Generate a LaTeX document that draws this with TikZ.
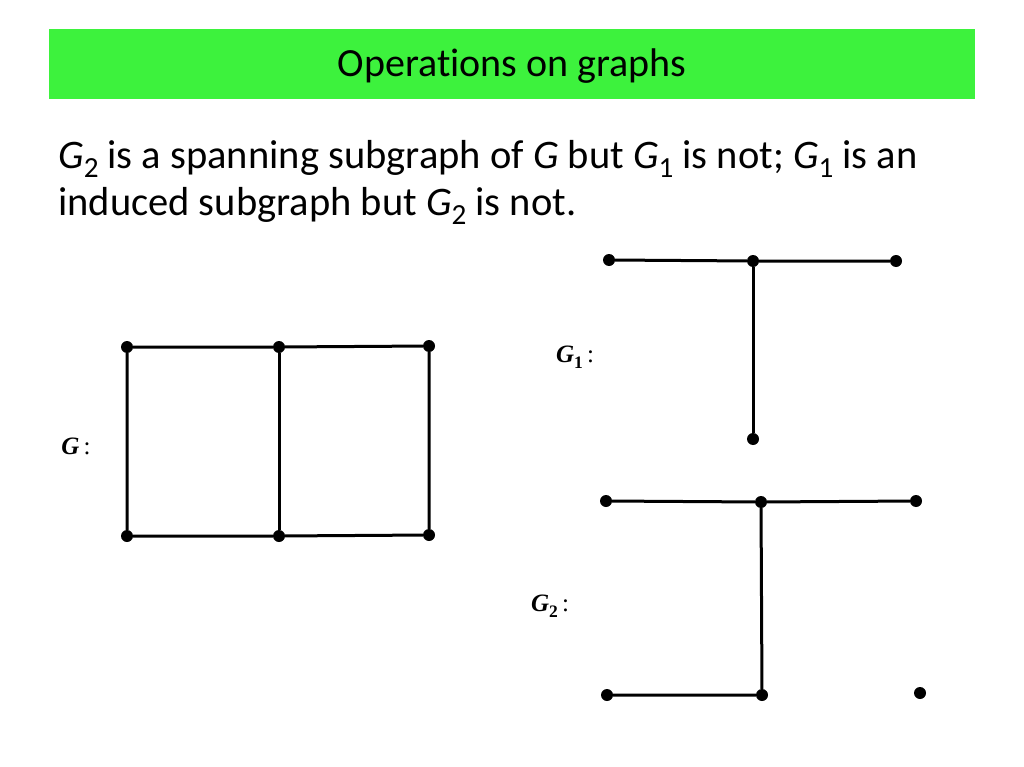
\documentclass[tikz,border=0pt]{standalone}
\usepackage{fontspec}
\setmainfont{Carlito}[Ligatures=NoCommon]
\newfontfamily\labfont{Liberation Serif}
\definecolor{bargreen}{HTML}{3DF23D}
\newcommand{\Gsub}[1]{\textit{G}\raisebox{-0.2em}{\scalebox{0.72}{#1}}}
\newcommand{\Glab}[1]{{\labfont\bfseries\itshape G}\raisebox{-0.22em}{\labfont\bfseries\scalebox{0.7}{#1}}\labfont\,:}
\begin{document}
\begin{tikzpicture}[x=1pt,y=-1pt,
  vtx/.style={circle,fill=black,inner sep=0pt,minimum size=12pt},
  edge/.style={line width=3pt},
  glabel/.style={font=\fontsize{25}{28}\selectfont,inner sep=0pt},
  body/.style={font=\fontsize{40.5}{47}\selectfont,anchor=base west,inner sep=0pt}]
\useasboundingbox[fill=white] (0,0) rectangle (1024,767);
\fill[bargreen] (49,29) rectangle (975,99);
\node[font=\fontsize{40}{46}\selectfont,inner sep=0pt] (title) at (512,66) {Operations on graphs};
\node[body] (l1) at (58,169)
  {\Gsub{2} is a spanning subgraph of \textit{G} but \Gsub{1} is not; \Gsub{1} is an};
\node[body] (l2) at (58,216)
  {induced subgraph but \Gsub{2} is not.};
% graph G
\node[vtx] (a1) at (127,347) {};
\node[vtx] (a2) at (279,347) {};
\node[vtx] (a3) at (429,346) {};
\node[vtx] (b1) at (127,536) {};
\node[vtx] (b2) at (279,536) {};
\node[vtx] (b3) at (429,535) {};
\draw[edge] (a1) -- (a2) -- (a3) -- (b3) -- (b2) -- (b1) -- (a1);
\draw[edge] (a2) -- (b2);
\node[glabel] (lg) at (76,446) {{\labfont\bfseries\itshape G}\labfont\,:};
% graph G1
\node[vtx] (c1) at (609,260) {};
\node[vtx] (c2) at (753,261) {};
\node[vtx] (c3) at (896,261) {};
\node[vtx] (c4) at (753,439) {};
\draw[edge] (c1) -- (c2) -- (c3);
\draw[edge] (c2) -- (c4);
\node[glabel] (lg1) at (575,357) {\Glab{1}};
% graph G2
\node[vtx] (d1) at (606,501) {};
\node[vtx] (d2) at (761,502) {};
\node[vtx] (d3) at (916,501) {};
\node[vtx] (e1) at (607,695) {};
\node[vtx] (e2) at (762,695) {};
\node[vtx] (e3) at (920,693) {};
\draw[edge] (d1) -- (d2) -- (d3);
\draw[edge] (d2) -- (e2) -- (e1);
\node[glabel] (lg2) at (550,606) {\Glab{2}};
\end{tikzpicture}
\end{document}
